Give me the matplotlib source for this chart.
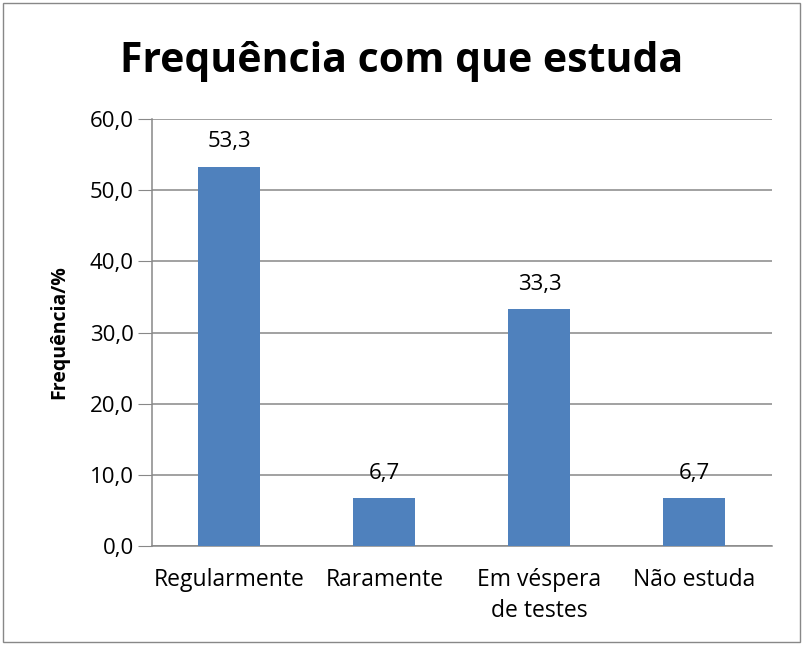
import matplotlib
matplotlib.use("Agg")
import matplotlib.pyplot as plt
from matplotlib.patches import Rectangle

# dados
categorias = ["Regularmente", "Raramente", "Em véspera\nde testes", "Não estuda"]
valores = [53.3, 6.7, 33.3, 6.7]
yticks = [0, 10, 20, 30, 40, 50, 60]

plt.rcParams['font.family'] = ['Open Sans', 'DejaVu Sans']

fig = plt.figure(figsize=(8.03, 6.45), dpi=100)
ax = fig.add_axes([152/803, 1-546/645, 620/803, 427/645])

x = range(len(categorias))
ax.bar(x, valores, width=0.4, color='#4F81BD', zorder=3)
for xi, v in zip(x, valores):
    ax.text(xi, v + 2.0, f"{v:.1f}".replace('.', ','), ha='center', va='bottom',
            fontsize=16, zorder=4)

ax.set_xlim(-0.5, len(categorias) - 0.5)
ax.set_ylim(0, 60)
ax.set_yticks(yticks)
ax.set_yticklabels([f"{t:.1f}".replace('.', ',') for t in yticks], fontsize=16)
ax.set_xticks(list(x))
ax.set_xticklabels(categorias, fontsize=16.5, linespacing=1.4)
ax.tick_params(axis='x', length=0, pad=16)
ax.tick_params(axis='y', length=10, color='#888888', pad=3)
ax.yaxis.grid(True, color='#888888', linewidth=1.1, zorder=0)

for s in ['top', 'right']:
    ax.spines[s].set_visible(False)
for s in ['left', 'bottom']:
    ax.spines[s].set_color('#888888')
    ax.spines[s].set_linewidth(1.1)

ax.set_ylabel("Frequência/%", fontsize=14, fontweight='bold', labelpad=15)
fig.text(402/803, 1-62/645, "Frequência com que estuda", ha='center', va='center',
         fontsize=29.5, fontweight='bold')

fig.patches.append(Rectangle((3/803, 3/645), 797/803, 639/645, transform=fig.transFigure,
                             fill=False, edgecolor='#888888', linewidth=1))

fig.savefig("out.png", dpi=100)
